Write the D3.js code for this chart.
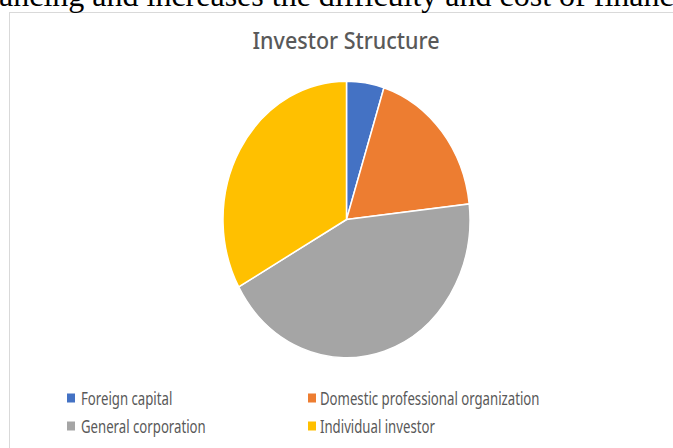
<!DOCTYPE html>
<html>
<head>
<meta charset="utf-8">
<script src="https://cdn.jsdelivr.net/npm/d3@7"></script>
<style>
  body { margin: 0; background: #fff; }
  svg { display: block; }
  .legend-label { font-family: "Noto Sans", sans-serif; fill: #595959; }
</style>
</head>
<body>
<div id="vis"><svg></svg></div>
<script>
// chart data
const categories = ["Foreign capital", "Domestic professional organization", "General corporation", "Individual investor"];
const shares = [4.9, 18.3, 43.7, 33.1];
const colors = ["#4472C4", "#ED7D31", "#A5A5A5", "#FFC000"];
const chartTitle = "Investor Structure";
const pageText = "ancing and increases the difficulty and cost of financing";

const w = 673, h = 448;
const svg = d3.select("#vis").select("svg")
  .attr("width", w)
  .attr("height", h);

// chart frame
svg.append("rect")
  .attr("x", 9.5)
  .attr("y", 12.5)
  .attr("width", 700)
  .attr("height", 460)
  .attr("fill", "#fff")
  .attr("stroke", "#d9d9d9");

// cut-off line of body text above the chart
svg.append("text")
  .attr("x", -1)
  .attr("y", 5.5)
  .attr("font-family", "Liberation Serif, serif")
  .attr("font-size", 32)
  .attr("fill", "#000")
  .text(pageText);

// the picture is stretched a bit vertically
const sy = 1.12;

svg.append("text")
  .attr("transform", `translate(346, 49) scale(1, ${sy})`)
  .attr("text-anchor", "middle")
  .attr("font-family", "Noto Sans, sans-serif")
  .attr("font-weight", 500)
  .attr("font-size", 21.5)
  .attr("fill", "#595959")
  .text(chartTitle);

const radius = 123.5;
const pie = d3.pie().sort(null).value(d => d);
const arc = d3.arc().innerRadius(0).outerRadius(radius);

const g = svg.append("g")
  .attr("transform", `translate(346.5, 219.5) scale(1, ${sy})`);

g.selectAll("path")
  .data(pie(shares))
  .enter().append("path")
    .attr("d", arc)
    .attr("fill", (d, i) => colors[i])
    .attr("stroke", "#fff")
    .attr("stroke-width", 1.5)
    .attr("vector-effect", "non-scaling-stroke");

// legend, two columns
const legendX = [67, 308];
const legendY = [398, 426];

const items = svg.selectAll(".legend-item")
  .data(categories)
  .enter().append("g")
    .attr("class", "legend-item")
    .attr("transform", (d, i) => `translate(${legendX[i % 2]}, ${legendY[Math.floor(i / 2)]})`);

items.append("rect")
  .attr("x", 0)
  .attr("y", -4.5)
  .attr("width", 8)
  .attr("height", 9)
  .attr("fill", (d, i) => colors[i]);

items.append("text")
  .attr("class", "legend-label")
  .attr("transform", (d, i) => `translate(${i % 2 ? 12 : 14}, 6.5) scale(0.825, ${sy})`)
  .attr("font-size", 16)
  .text(d => d);
</script>
</body>
</html>
